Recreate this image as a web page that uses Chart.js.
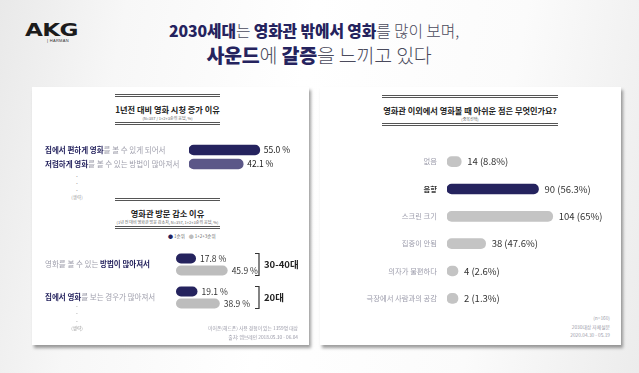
<!DOCTYPE html>
<html><head><meta charset="utf-8">
<script src="https://cdn.jsdelivr.net/npm/chart.js@4"></script>
<style>
html,body{margin:0;padding:0;}
body{width:639px;height:373px;position:relative;overflow:hidden;font-family:"Noto Sans CJK KR","Noto Sans",sans-serif;
background:linear-gradient(100deg,#e9e9e9 0%,#f7f7f7 18%,#ffffff 45%,#fbfbfb 75%,#ececec 100%);}
.t{position:absolute;white-space:nowrap;line-height:1;}
.panel{position:absolute;background:#fff;box-shadow:2px 3px 3px rgba(0,0,0,0.38);}
.hl{position:absolute;height:1px;background:#555;}
canvas{position:absolute;}
</style></head><body>
<div class="panel" style="left:32px;top:87px;width:277px;height:258px"></div>
<div class="panel" style="left:320px;top:87px;width:301px;height:258px"></div>
<canvas id="c1" width="265" height="28" style="left:40px;top:143px"></canvas>
<canvas id="c2" width="265" height="66" style="left:40px;top:248px"></canvas>
<canvas id="c3" width="290" height="164" style="left:325px;top:148px"></canvas>
<script>
// ---------- data ----------
const headline1 = [['2030세대',1],['는 ',0],['영화관 밖에서 영화',1],['를 많이 보며,',0]];
const headline2 = [['사운드',1],['에 ',0],['갈증',1],['을 느끼고 있다',0]];

const c1Title = '1년전 대비 영화 시청 증가 이유';
const c1Sub = '(N=387 / 1+2+3순위 응답, %)';
const c1Categories = ['집에서 편하게 영화를 볼 수 있게 되어서', '저렴하게 영화를 볼 수 있는 방법이 많아져서'];
const c1Emphasis = ['집에서 편하게 영화', '저렴하게 영화'];
const c1Values = [55.0, 42.1];

const c2Title = '영화관 방문 감소 이유';
const c2Sub = '(1년 전 대비 영화관 방문 감소자, N=357, 1+2+3순위 응답, %)';
const c2Series = ['1순위', '1+2+3순위'];
const c2Categories = ['영화를 볼 수 있는 방법이 많아져서', '집에서 영화를 보는 경우가 많아져서'];
const c2Emphasis = ['방법이 많아져서', '집에서 영화'];
const c2First = [17.8, 19.1];
const c2Total = [45.9, 38.9];
const c2Groups = ['30-40대', '20대'];
const leftNote = ['이어폰(헤드폰) 사용 경험이 있는 1359명 대상', '출처: 엠브레인 2018.05.30 - 06.04'];

const c3Title = '영화관 이외에서 영화볼 때 아쉬운 점은 무엇인가요?';
const c3Sub = '(중복선택)';
const c3Categories = ['없음', '음향', '스크린 크기', '집중이 안됨', '의자가 불편하다', '극장에서 사람과의 공감'];
const c3Counts = [14, 90, 104, 38, 4, 2];
const c3Percents = [8.8, 56.3, 65, 47.6, 2.6, 1.3];
const c3Highlight = '음향';
const rightNote = ['(n=160)', '2030대상 자체설문', '2020.04.30 - 05.19'];

// ---------- helpers ----------
const NAVY = '#25235e';
const KR = '"Noto Sans CJK KR","Noto Sans",sans-serif';
function txt(html, x, y, css, align) {
  const d = document.createElement('div');
  d.className = 't';
  d.innerHTML = html;
  d.style.left = x + 'px'; d.style.top = y + 'px';
  const tx = align === 'center' ? '-50%' : align === 'right' ? '-100%' : '0';
  d.style.transform = 'translate(' + tx + ',-50%)';
  d.style.cssText += css;
  document.body.appendChild(d);
  return d;
}
function hline(x1, x2, y) {
  const d = document.createElement('div');
  d.className = 'hl';
  d.style.left = x1 + 'px'; d.style.top = y + 'px'; d.style.width = (x2 - x1) + 'px';
  document.body.appendChild(d);
}
function rich(parts) {
  return parts.map(p => p[1]
    ? '<span style="font-weight:900;color:' + NAVY + '">' + p[0] + '</span>'
    : '<span style="font-weight:300;color:#4a4a5c">' + p[0] + '</span>').join('');
}

// ---------- header ----------
const logo = txt('AKG', 25, 30, 'font-family:"DejaVu Sans",sans-serif;font-weight:900;font-size:17px;color:#1b1b1b;transform-origin:left center;letter-spacing:-0.5px;', 'left');
logo.style.transform = 'translate(0,-50%) scaleX(1.36)';
txt('| HARMAN', 47, 41, 'font-family:"Liberation Sans",sans-serif;font-size:4px;color:#333;letter-spacing:0.3px;', 'left');
txt(rich(headline1), 314, 31, 'font-size:15.8px;letter-spacing:-0.1px;', 'center');
txt(rich(headline2), 319, 55, 'font-size:19.5px;letter-spacing:-0.2px;', 'center');

// ---------- title blocks ----------
function titleBlock(x1, x2, yTop, yTitle, ySub, yBot, title, sub) {
  hline(x1, x2, yTop); hline(x1, x2, yTop + 2);
  hline(x1, x2, yBot); hline(x1, x2, yBot + 2);
  txt(title, (x1 + x2) / 2, yTitle, 'font-size:8.2px;font-weight:700;color:#222;', 'center');
  txt(sub, (x1 + x2) / 2, ySub, 'font-size:4px;color:#666;', 'center');
}
titleBlock(115, 220, 94, 109, 117.5, 122, c1Title, c1Sub);
titleBlock(115, 220, 198, 213, 222, 226, c2Title, c2Sub);
titleBlock(382, 558, 95, 110, 119, 123, c3Title, c3Sub);

// omitted markers
function omitted(x, ys, yLabel) {
  ys.forEach(y => txt('•', x, y, 'font-size:4px;color:#aaa;', 'center'));
  txt('(생략)', x, yLabel, 'font-size:4.5px;color:#999;', 'center');
}
omitted(77, [176, 183, 190], 197);
omitted(77, [306, 313, 321], 328);

// legend for chart 2
const legendCols = [NAVY, '#bdbdbd'];
txt(c2Series.map((s, i) => '<span style="color:' + legendCols[i] + ';font-size:5px">●</span> ' + s).join('&nbsp;&nbsp;&nbsp;&nbsp;'),
  168, 236, 'font-size:4.5px;color:#666;', 'left');

// notes
leftNote.forEach((s, i) => txt(s, 298, 328 + i * 8.5, 'font-size:4.8px;color:#9a9aa8;', 'right'));
rightNote.forEach((s, i) => txt(s, 610, 318 + i * 8.5, 'font-size:4.8px;color:#9a9aa8;', 'right'));

// ---------- chart helpers ----------
function drawRich(ctx, label, emph, x, y, size, align, emphColor, baseColor) {
  const i = emph ? label.indexOf(emph) : -1;
  const parts = i < 0 ? [[label, 0]] : [[label.slice(0, i), 0], [emph, 1], [label.slice(i + emph.length), 0]];
  const fontOf = b => (b ? '700 ' : '400 ') + size + 'px ' + KR;
  let total = 0;
  parts.forEach(p => { ctx.font = fontOf(p[1]); total += ctx.measureText(p[0]).width; });
  let cx = align === 'right' ? x - total : x;
  ctx.textBaseline = 'middle'; ctx.textAlign = 'left';
  parts.forEach(p => {
    ctx.font = fontOf(p[1]);
    ctx.fillStyle = p[1] ? emphColor : baseColor;
    ctx.fillText(p[0], cx, y);
    cx += ctx.measureText(p[0]).width;
  });
}
function baseOptions(xmax, padL, padR) {
  return {
    indexAxis: 'y', responsive: false, animation: false,
    layout: { padding: { left: padL, right: padR, top: 0, bottom: 0 } },
    plugins: { legend: { display: false }, tooltip: { enabled: false } },
    scales: { x: { display: false, min: 0, max: xmax }, y: { display: false } }
  };
}

// ---------- chart 1 ----------
new Chart(document.getElementById('c1'), {
  type: 'bar',
  data: { labels: c1Categories, datasets: [{ data: c1Values, backgroundColor: [NAVY, '#5b5788'],
    barThickness: 10, borderRadius: 6, borderSkipped: false }] },
  options: baseOptions(80, 149, 13),
  plugins: [{ id: 'lab1', afterDatasetsDraw(chart) {
    const ctx = chart.ctx, meta = chart.getDatasetMeta(0);
    ctx.save();
    c1Categories.forEach((c, i) => {
      const y = chart.scales.y.getPixelForValue(i);
      drawRich(ctx, c, c1Emphasis[i], 5, y, 7.5, 'left', NAVY, '#a0a0ad');
      ctx.font = '400 8.5px ' + KR; ctx.fillStyle = '#222'; ctx.textAlign = 'left';
      ctx.fillText(c1Values[i].toFixed(1) + ' %', meta.data[i].x + 4, y);
    });
    ctx.restore();
  } }]
});

// ---------- chart 2 ----------
new Chart(document.getElementById('c2'), {
  type: 'bar',
  data: { labels: c2Categories, datasets: [
    { label: c2Series[0], data: c2First, backgroundColor: NAVY },
    { label: c2Series[1], data: c2Total, backgroundColor: '#bdbdbd' }
  ].map(d => Object.assign(d, { maxBarThickness: 10, borderRadius: 6, borderSkipped: false, categoryPercentage: 0.727, barPercentage: 1 })) },
  options: baseOptions(80, 136, 39),
  plugins: [{ id: 'lab2', afterDatasetsDraw(chart) {
    const ctx = chart.ctx;
    ctx.save();
    c2Categories.forEach((c, i) => {
      const y = chart.scales.y.getPixelForValue(i);
      drawRich(ctx, c, c2Emphasis[i], 5, y, 7.5, 'left', NAVY, '#a0a0ad');
      [0, 1].forEach(k => {
        const el = chart.getDatasetMeta(k).data[i];
        ctx.font = '400 8.5px ' + KR; ctx.fillStyle = '#333'; ctx.textAlign = 'left'; ctx.textBaseline = 'middle';
        ctx.fillText((k ? c2Total : c2First)[i].toFixed(1) + ' %', el.x + 4, el.y);
      });
      // bracket
      const bx = 219, top = y - 11, bot = y + 11;
      ctx.strokeStyle = '#333'; ctx.lineWidth = 1.2;
      ctx.beginPath(); ctx.moveTo(bx - 4, top); ctx.lineTo(bx, top); ctx.lineTo(bx, bot); ctx.lineTo(bx - 4, bot); ctx.stroke();
      ctx.font = '700 9.5px ' + KR; ctx.fillStyle = '#222';
      ctx.fillText(c2Groups[i], bx + 5, y);
    });
    ctx.restore();
  } }]
});

// ---------- chart 3 ----------
new Chart(document.getElementById('c3'), {
  type: 'bar',
  data: { labels: c3Categories, datasets: [{ data: c3Counts,
    backgroundColor: c3Categories.map(c => c === c3Highlight ? NAVY : '#c4c4c4'),
    barThickness: 10, borderRadius: 6, borderSkipped: false, minBarLength: 11 }] },
  options: baseOptions(120, 122, 46),
  plugins: [{ id: 'lab3', afterDatasetsDraw(chart) {
    const ctx = chart.ctx, meta = chart.getDatasetMeta(0);
    ctx.save();
    c3Categories.forEach((c, i) => {
      const y = chart.scales.y.getPixelForValue(i);
      const hi = c === c3Highlight;
      drawRich(ctx, c, hi ? c : '', 112, y, 7.3, 'right', '#333', '#9c9cab');
      ctx.font = '400 9.5px ' + KR; ctx.fillStyle = '#333'; ctx.textAlign = 'left';
      ctx.fillText(c3Counts[i] + ' (' + c3Percents[i] + '%)', meta.data[i].x + 6, y);
    });
    ctx.restore();
  } }]
});
</script>
</body></html>
